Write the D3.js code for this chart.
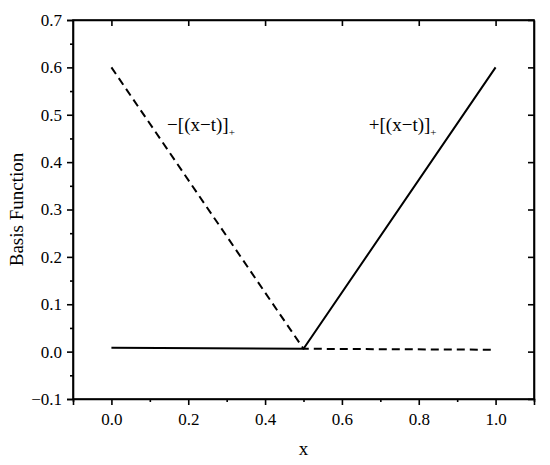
<!DOCTYPE html>
<html><head><meta charset="utf-8">
<script src="https://cdn.jsdelivr.net/npm/d3@7"></script>
<style>body{margin:0;background:#fff}svg{display:block}svg text{font-family:"Liberation Serif",serif !important;fill:#000}</style>
</head><body>
<script>
const xTicks = [0.0, 0.2, 0.4, 0.6, 0.8, 1.0];
const yTicks = [-0.1, 0.0, 0.1, 0.2, 0.3, 0.4, 0.5, 0.6, 0.7];
const solidX = [0.0, 0.5, 1.0];
const solidY = [0.008, 0.006, 0.6];
const dashedX = [0.0, 0.5, 1.0];
const dashedY = [0.6, 0.006, 0.004];
const labels = [
  {x: 0.145, y: 0.465, main: "\u2212[(x\u2212t)]", sub: "+"},
  {x: 0.67, y: 0.465, main: "+[(x\u2212t)]", sub: "+"}
];

const W = 550, H = 465;
const m = {l: 73, r: 16, t: 20, b: 66};
const FONT = "Liberation Serif";
const svg = d3.select("body").append("svg").attr("width", W).attr("height", H).attr("font-family", FONT);
const x = d3.scaleLinear().domain([-0.1, 1.1]).range([m.l, W - m.r]);
const y = d3.scaleLinear().domain([-0.1, 0.7]).range([H - m.b, m.t]);

const xMinor = d3.range(-0.1, 1.11, 0.1).map(v => +v.toFixed(2)).filter(v => !xTicks.some(t => Math.abs(t - v) < 1e-9));
const yMinor = d3.range(-0.05, 0.7, 0.1).map(v => +v.toFixed(3));

// bottom axis
const gB = svg.append("g").attr("transform", `translate(0,${H - m.b})`)
  .call(d3.axisBottom(x).tickValues(xTicks).tickFormat(d3.format(".1f")).tickSize(6).tickPadding(8));
gB.attr("font-family", FONT).selectAll(".tick text").attr("font-size", 17).attr("font-family", FONT);
svg.append("g").attr("transform", `translate(0,${H - m.b})`)
  .call(d3.axisBottom(x).tickValues(xMinor).tickFormat("").tickSize(3)).select(".domain").remove();
// left axis
const fmtY = d => d < 0 ? "\u2212" + Math.abs(d).toFixed(1) : d.toFixed(1);
const gL = svg.append("g").attr("transform", `translate(${m.l},0)`)
  .call(d3.axisLeft(y).tickValues(yTicks).tickFormat(fmtY).tickSize(6).tickPadding(5));
gL.attr("font-family", FONT).selectAll(".tick text").attr("font-size", 17).attr("font-family", FONT);
svg.append("g").attr("transform", `translate(${m.l},0)`)
  .call(d3.axisLeft(y).tickValues(yMinor).tickFormat("").tickSize(3)).select(".domain").remove();
// top and right (inward major ticks)
svg.append("g").attr("transform", `translate(0,${m.t})`)
  .call(d3.axisBottom(x).tickValues(xTicks).tickFormat("").tickSize(6).tickSizeOuter(0));
svg.append("g").attr("transform", `translate(${W - m.r},0)`)
  .call(d3.axisLeft(y).tickValues(yTicks).tickFormat("").tickSize(6).tickSizeOuter(0));
svg.selectAll(".domain").attr("stroke-width", 1.6);
svg.selectAll(".tick line").attr("stroke-width", 1.6);
svg.append("rect").attr("x", m.l).attr("y", m.t).attr("width", W - m.r - m.l).attr("height", H - m.b - m.t)
  .attr("fill", "none").attr("stroke", "#000").attr("stroke-width", 1.6);

const line = d3.line().x(d => x(d[0])).y(d => y(d[1]));
svg.append("path").datum(solidX.map((v, i) => [v, solidY[i]])).attr("d", line)
  .attr("fill", "none").attr("stroke", "#000").attr("stroke-width", 2);
svg.append("path").datum(dashedX.map((v, i) => [v, dashedY[i]])).attr("d", line)
  .attr("fill", "none").attr("stroke", "#000").attr("stroke-width", 2).attr("stroke-dasharray", "8,5");

labels.forEach(l => {
  const t = svg.append("text").attr("x", x(l.x)).attr("y", y(l.y)).attr("font-size", 19).attr("font-family", FONT);
  t.append("tspan").text(l.main);
  t.append("tspan").attr("font-size", 11).attr("dy", 5).text(l.sub);
});

svg.append("text").attr("x", (m.l + W - m.r) / 2).attr("y", 455).attr("text-anchor", "middle").attr("font-size", 19).attr("font-family", FONT).text("x");
svg.append("text").attr("transform", `translate(23,${(m.t + H - m.b) / 2}) rotate(-90)`)
  .attr("text-anchor", "middle").attr("font-size", 19).attr("font-family", FONT).text("Basis Function");
</script>
</body></html>
